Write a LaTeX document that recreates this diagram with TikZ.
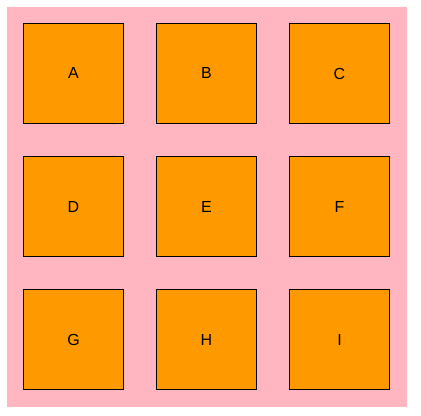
\documentclass[tikz,border=0pt]{standalone}
\usepackage{fontspec}
\setmainfont{Liberation Sans}
\definecolor{bgpink}{HTML}{FFB6C1}
\definecolor{boxorange}{HTML}{FF9900}

\begin{document}
\begin{tikzpicture}[x=0.75pt,y=-0.75pt,
  cell/.style={draw=black,line width=0.75pt,fill=boxorange,minimum size=75pt,inner sep=0pt,font=\fontsize{12pt}{14pt}\selectfont}]
\useasboundingbox (0,0) rectangle (421,416);
\fill[bgpink] (7,7) rectangle (407,407);
\node[cell] (a) at (73.5,73.5) {A};
\node[cell] (b) at (206.5,73.5) {B};
\node[cell] (c) at (339.5,73.5) {C};
\node[cell] (d) at (73.5,206.5) {D};
\node[cell] (e) at (206.5,206.5) {E};
\node[cell] (f) at (339.5,206.5) {F};
\node[cell] (g) at (73.5,339.5) {G};
\node[cell] (h) at (206.5,339.5) {H};
\node[cell] (i) at (339.5,339.5) {I};
\end{tikzpicture}
\end{document}
